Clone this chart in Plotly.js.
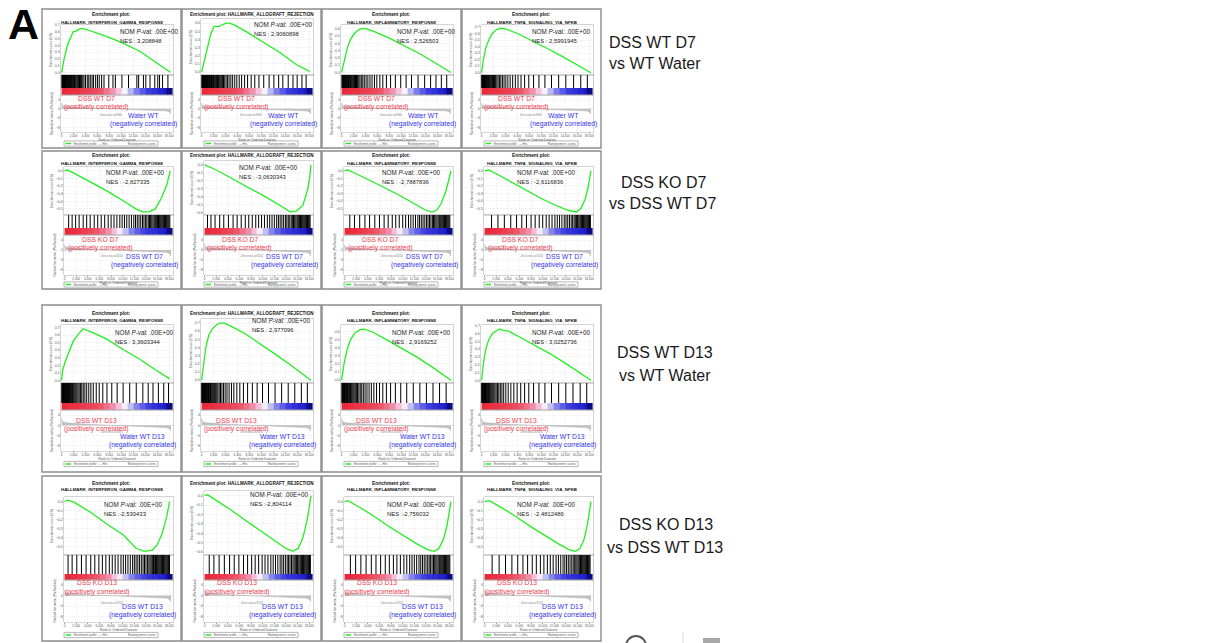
<!DOCTYPE html>
<html><head><meta charset="utf-8">
<script src="https://cdn.plot.ly/plotly-3.0.1.min.js"></script>
<style>html,body{margin:0;padding:0;background:#fff}#chart{width:1205px;height:643px}</style>
</head><body><div id="chart"></div><script>
const W=1205,H=643;
// ---------------- DATA ----------------
const geneSets = ["HALLMARK_INTERFERON_GAMMA_RESPONSE","HALLMARK_ALLOGRAFT_REJECTION","HALLMARK_INFLAMMATORY_RESPONSE","HALLMARK_TNFA_SIGNALING_VIA_NFKB"];
const rowLabels = [["DSS WT D7","vs WT Water"],["DSS KO D7","vs DSS WT D7"],["DSS WT D13","vs WT Water"],["DSS KO D13","vs DSS WT D13"]];
const posLabels = ["DSS WT D7","DSS KO D7","DSS WT D13","DSS KO D13"];
const negLabels = ["Water WT","DSS WT D7","Water WT D13","DSS WT D13"];
const nomText = "NOM <i>P</i>-val: .00E+00";
const nesText = [["NES : 3,208848","NES : 2,9060898","NES : 2,526503","NES : 2,5991945"],
                 ["NES : -2,827335","NES : -3,0630343","NES : -2,7887836","NES : -2,6116836"],
                 ["NES : 3,3603344","NES : 2,977096","NES : 2,9169252","NES : 3,0252736"],
                 ["NES :-2,530433","NES :-2,804114","NES :-2,756032","NES : -2,4812486"]];
const zeroCross = [8340, 8210, 8470, 8150];
const xTicks = [0,2000,4000,6000,8000,10000,12000,14000,16000,18000];

// running enrichment score curves (rank, ES)
const es_r1c1_rank=[0,442,994,1546,1932,2374,2926,3478,4306,7618,10378,13138,15898,17554,18216];
const es_r1c1_val =[0,0.21,0.41,0.54,0.60,0.61,0.64,0.65,0.63,0.53,0.43,0.31,0.14,0.04,0.005];
const es_r1c2_rank=[0,700,1000,1550,2100,2900,3500,4100,4600,5400,7600,10400,13100,15900,18100];
const es_r1c2_val =[0,0.20,0.32,0.47,0.56,0.56,0.58,0.60,0.60,0.58,0.49,0.36,0.24,0.09,0.01];
const es_r1c3_rank=[0,500,1000,1500,2000,2500,3200,4000,5500,8000,10500,13000,15500,17500,18300];
const es_r1c3_val =[0,0.20,0.35,0.45,0.52,0.56,0.60,0.60,0.56,0.47,0.37,0.26,0.14,0.04,0];
const es_r1c4_rank=[0,300,700,1200,1800,2500,3200,4000,6000,8500,11000,13500,15800,17600,18300];
const es_r1c4_val =[0,0.20,0.38,0.50,0.60,0.66,0.68,0.67,0.60,0.49,0.37,0.25,0.13,0.04,0];
const es_r2c1_rank=[0,450,1600,4400,7200,10000,12260,13400,14500,15600,16700,17600,18170];
const es_r2c1_val =[0,0.01,-0.03,-0.14,-0.26,-0.39,-0.50,-0.54,-0.54,-0.50,-0.35,-0.18,0];
const es_r2c2_rank=[0,1940,4700,7500,10200,13000,14700,15800,16900,17700,18100,18300];
const es_r2c2_val =[0,-0.06,-0.17,-0.28,-0.39,-0.51,-0.59,-0.58,-0.51,-0.32,-0.15,0];
const es_r2c3_rank=[0,500,2000,4500,7000,9500,12000,13800,15000,15800,16600,17400,17900,18300];
const es_r2c3_val =[0,0.01,-0.04,-0.13,-0.23,-0.33,-0.44,-0.52,-0.55,-0.53,-0.44,-0.28,-0.13,0];
const es_r2c4_rank=[0,700,2500,5000,7500,10000,12500,14500,15800,16600,17300,17800,18300];
const es_r2c4_val =[0,0.01,-0.06,-0.17,-0.28,-0.38,-0.47,-0.53,-0.55,-0.50,-0.38,-0.22,0];
const es_r3c1_rank=[0,170,560,1390,1950,2780,3600,5300,7500,10300,13100,15900,18100];
const es_r3c1_val =[0,0.13,0.24,0.41,0.52,0.61,0.685,0.63,0.55,0.41,0.28,0.13,0.02];
const es_r3c2_rank=[0,300,700,1200,1800,2500,3100,3800,5000,7500,10000,12500,15000,17200,18300];
const es_r3c2_val =[0,0.20,0.40,0.55,0.63,0.68,0.70,0.70,0.66,0.56,0.44,0.31,0.18,0.06,0];
const es_r3c3_rank=[0,400,900,1500,2200,3000,3800,5000,7500,10000,12500,15000,17200,18300];
const es_r3c3_val =[0,0.20,0.37,0.50,0.58,0.62,0.63,0.60,0.50,0.40,0.29,0.17,0.06,0];
const es_r3c4_rank=[0,300,700,1200,1800,2500,3000,3600,4500,6500,9000,11500,14000,16300,17800,18300];
const es_r3c4_val =[0,0.22,0.40,0.52,0.60,0.64,0.66,0.64,0.63,0.55,0.45,0.34,0.22,0.10,0.03,0];
const es_r4c1_rank=[0,560,1680,4470,7270,10060,12300,13700,15100,15930,16770,17600,18050];
const es_r4c1_val =[0,0.015,-0.01,-0.12,-0.25,-0.37,-0.52,-0.555,-0.54,-0.48,-0.36,-0.16,0];
const es_r4c2_rank=[0,500,2000,4500,7000,9500,12000,14000,15200,16100,16900,17600,18000,18300];
const es_r4c2_val =[0,0.01,-0.05,-0.15,-0.26,-0.37,-0.48,-0.56,-0.59,-0.56,-0.45,-0.27,-0.13,0];
const es_r4c3_rank=[0,600,2500,5000,7500,10000,12500,14300,15400,16200,17000,17600,18000,18300];
const es_r4c3_val =[0,0.01,-0.06,-0.16,-0.27,-0.37,-0.47,-0.53,-0.55,-0.52,-0.42,-0.27,-0.13,0];
const es_r4c4_rank=[0,800,3000,5500,8000,10500,12800,14500,15600,16400,17100,17700,18100,18300];
const es_r4c4_val =[0,0.01,-0.07,-0.17,-0.28,-0.38,-0.47,-0.53,-0.55,-0.52,-0.42,-0.25,-0.10,0];

// gene set hit positions (rank)
const hits_r1c1=[50,120,200,260,330,410,480,560,640,700,790,860,950,1040,1120,1200,1290,1380,1470,1560,1680,1790,1900,2020,2150,2280,2400,2560,2700,2850,3000,3180,3350,3550,3750,4000,4300,4550,4800,5100,5350,5700,6000,6300,6700,7100,7900,8600,9000,10100,11200,12600,12900,13700,14100,14800,15600,16100,16400,16900,17800];
const hits_r1c2=[40,110,180,250,320,400,470,550,620,690,770,850,930,1010,1100,1190,1280,1370,1460,1560,1660,1770,1880,2000,2120,2250,2380,2520,2660,2810,2960,3120,3300,3480,3670,3880,4100,4350,4600,4900,5200,5550,5900,6300,6700,7200,7700,8300,8900,9600,10400,11300,12100,12900,13600,14500,15300,16000,16800,17500];
const hits_r1c3=[60,130,210,290,360,440,520,600,690,780,870,960,1060,1160,1270,1380,1500,1620,1750,1880,2020,2170,2330,2500,2680,2870,3070,3300,3550,3800,4100,4400,4750,5100,5500,5900,6400,6900,7500,8200,9000,9900,10800,11700,12800,13900,14900,15800,16700,17600];
const hits_r1c4=[30,90,150,220,290,360,430,510,590,680,770,860,960,1070,1180,1300,1420,1550,1690,1840,2000,2170,2350,2550,2760,2980,3220,3480,3760,4060,4400,4780,5200,5650,6100,6600,7200,7900,8700,9600,10600,11700,12900,14100,15400,16600,17700];
const hits_r2c1=[700,1300,1900,2500,3200,3800,4400,5100,5700,6300,6900,7500,8000,8500,9000,9500,9900,10300,10700,11100,11500,11900,12200,12500,12800,13100,13400,13650,13900,14150,14400,14600,14800,15000,15200,15400,15550,15700,15850,16000,16150,16300,16450,16600,16750,16900,17050,17200,17350,17500,17650,17800,17950,18100];
const hits_r2c2=[500,1100,1800,2600,3300,4100,4900,5600,6300,7000,7600,8200,8800,9300,9800,10300,10800,11200,11600,12000,12400,12700,13000,13300,13600,13900,14150,14400,14650,14900,15100,15300,15500,15700,15900,16050,16200,16350,16500,16650,16800,16950,17100,17250,17400,17550,17700,17850,18000,18150];
const hits_r2c3=[900,1700,2600,3500,4300,5200,6000,6800,7500,8200,8800,9400,10000,10500,11000,11400,11800,12200,12600,12900,13200,13500,13800,14100,14350,14600,14850,15100,15300,15500,15700,15900,16100,16300,16450,16600,16750,16900,17050,17200,17350,17500,17650,17800,17950,18100];
const hits_r2c4=[1200,2300,3400,4500,5500,6400,7200,8000,8700,9400,10000,10600,11100,11600,12100,12500,12900,13300,13700,14000,14300,14600,14900,15150,15400,15600,15800,16000,16200,16400,16550,16700,16850,17000,17150,17300,17450,17600,17750,17900,18050,18200];
const hits_r3c1=[40,100,170,240,310,380,460,540,620,700,780,870,960,1050,1150,1250,1350,1460,1570,1690,1810,1940,2080,2230,2390,2560,2740,2940,3150,3380,3620,3900,4200,4550,4900,5300,5800,6300,6900,7600,8400,9300,10300,11400,12500,13600,14500,15300,16200,17100,17900];
const hits_r3c2=[30,90,160,230,300,370,440,520,600,680,770,860,950,1050,1150,1260,1370,1490,1610,1740,1880,2030,2190,2360,2540,2730,2940,3160,3400,3660,3940,4250,4600,5000,5400,5900,6400,7000,7700,8500,9300,10200,11200,12300,13400,14500,15600,16700,17700];
const hits_r3c3=[50,120,190,270,350,430,510,600,690,790,890,1000,1110,1230,1350,1480,1620,1770,1930,2100,2280,2470,2670,2890,3120,3370,3640,3930,4250,4600,4980,5400,5850,6350,6900,7500,8200,9000,9900,10900,12000,13100,14200,15300,16400,17500];
const hits_r3c4=[30,80,140,200,270,340,410,490,570,660,750,850,950,1060,1180,1300,1430,1570,1720,1880,2050,2230,2430,2650,2880,3130,3400,3700,4050,4450,4900,5400,5950,6550,7200,7900,8700,9600,10600,11700,12900,14100,15300,16500,17600];
const hits_r4c1=[600,1300,2100,2900,3700,4500,5200,5900,6500,7100,7700,8200,8700,9200,9700,10100,10500,10900,11300,11700,12000,12300,12600,12900,13200,13500,13750,14000,14250,14500,14700,14900,15100,15300,15500,15650,15800,15950,16100,16250,16400,16550,16700,16850,17000,17150,17300,17450,17600,17750,17900,18050];
const hits_r4c2=[800,1600,2500,3400,4300,5100,5900,6700,7400,8100,8700,9300,9900,10400,10900,11400,11800,12200,12600,13000,13300,13600,13900,14200,14450,14700,14950,15200,15400,15600,15800,16000,16200,16400,16550,16700,16850,17000,17150,17300,17450,17600,17750,17900,18050,18200];
const hits_r4c3=[1000,1900,2800,3700,4600,5400,6200,7000,7700,8400,9000,9600,10200,10700,11200,11600,12000,12400,12800,13100,13400,13700,14000,14300,14550,14800,15050,15300,15500,15700,15900,16100,16300,16450,16600,16750,16900,17050,17200,17350,17500,17650,17800,17950,18100];
const hits_r4c4=[1300,2500,3600,4700,5700,6600,7400,8200,8900,9600,10200,10800,11300,11800,12300,12700,13100,13500,13800,14100,14400,14700,15000,15250,15500,15700,15900,16100,16300,16500,16650,16800,16950,17100,17250,17400,17550,17700,17850,18000,18150];

// ranked list metric (one per comparison)
const metricRank=[0,150,600,1500,3000,5000,7000,8300,10000,12000,14000,16000,17500,18100,18300];
const metric_r1=[2.6,1.4,1.0,0.75,0.55,0.35,0.15,0,-0.15,-0.3,-0.45,-0.6,-0.85,-1.3,-2.2];
const metric_r2=[2.2,1.2,0.9,0.7,0.5,0.3,0.12,0,-0.15,-0.3,-0.45,-0.62,-0.9,-1.4,-2.4];
const metric_r3=[2.8,1.5,1.05,0.8,0.6,0.38,0.17,0.02,-0.14,-0.3,-0.45,-0.6,-0.85,-1.3,-2.1];
const metric_r4=[2.3,1.25,0.9,0.7,0.5,0.3,0.12,0,-0.15,-0.3,-0.46,-0.62,-0.9,-1.4,-2.3];

// colour bar under the barcode
const gradEdges=[0,1000,2000,3000,4000,5000,6000,7000,8000,9000,10000,11000,12000,13000,14000,15000,16000,17000,17600,18650];
const grad_r1=[1,0.96,0.92,0.87,0.82,0.75,0.66,0.48,0.32,0.14,0,-0.14,-0.3,-0.46,-0.6,-0.7,-0.8,-0.9,-1];
const grad_r2=[1,0.95,0.9,0.84,0.76,0.66,0.5,0.34,0.16,0.02,-0.12,-0.28,-0.44,-0.56,-0.66,-0.74,-0.82,-0.9,-1];
const grad_r3=[1,0.96,0.92,0.87,0.82,0.75,0.66,0.5,0.34,0.16,0.02,-0.12,-0.28,-0.44,-0.58,-0.7,-0.8,-0.9,-1];
const grad_r4=[1,0.95,0.9,0.84,0.76,0.66,0.5,0.34,0.16,0.02,-0.12,-0.28,-0.44,-0.56,-0.66,-0.74,-0.82,-0.9,-1];

// ---------------- BUILD ----------------
const ES = [[ [es_r1c1_rank,es_r1c1_val],[es_r1c2_rank,es_r1c2_val],[es_r1c3_rank,es_r1c3_val],[es_r1c4_rank,es_r1c4_val] ],
            [ [es_r2c1_rank,es_r2c1_val],[es_r2c2_rank,es_r2c2_val],[es_r2c3_rank,es_r2c3_val],[es_r2c4_rank,es_r2c4_val] ],
            [ [es_r3c1_rank,es_r3c1_val],[es_r3c2_rank,es_r3c2_val],[es_r3c3_rank,es_r3c3_val],[es_r3c4_rank,es_r3c4_val] ],
            [ [es_r4c1_rank,es_r4c1_val],[es_r4c2_rank,es_r4c2_val],[es_r4c3_rank,es_r4c3_val],[es_r4c4_rank,es_r4c4_val] ]];
const HITS = [[hits_r1c1,hits_r1c2,hits_r1c3,hits_r1c4],[hits_r2c1,hits_r2c2,hits_r2c3,hits_r2c4],
              [hits_r3c1,hits_r3c2,hits_r3c3,hits_r3c4],[hits_r4c1,hits_r4c2,hits_r4c3,hits_r4c4]];
const METRIC = [metric_r1,metric_r2,metric_r3,metric_r4];
const GRAD = [grad_r1,grad_r2,grad_r3,grad_r4];

const colX=[42,182,322,462], colW=139;
const rowGeo=[
 {top:9,  h:139, esTop:16, esBot:66, gradH:7, barBot:86,  metBot:123, legY:134.5, t1:6, t2:13, posY:[89,98],   negY:[106,115], posC:54, negC:101, L:19},
 {top:151,h:138, esTop:16, esBot:64, gradH:7, barBot:84,  metBot:124, legY:133.5, t1:4, t2:12, posY:[88,97],   negY:[105,114], posC:58, negC:102, L:22},
 {top:305,h:167, esTop:20, esBot:78, gradH:7, barBot:105, metBot:146, legY:159,   t1:8, t2:16, posY:[115,124], negY:[131,140], posC:54, negC:100, L:19},
 {top:476,h:165, esTop:21, esBot:79, gradH:6, barBot:104, metBot:146, legY:159,   t1:7, t2:13, posY:[106,116], negY:[130,139], posC:55, negC:100, L:22}
];
const nomLeft=[[76,70,73,68],[62,55,58,53],[71,68,68,68],[60,66,63,53]];
const nomY=[[22,15,23,23],[21,16,21,21],[27,15,27,27],[28,18,28,28]];
const R=131;
const XR=[-100,18650];
const FONT='Liberation Sans, Arial, sans-serif';
const colorscale=[[0,'#0b0b86'],[0.05,'#1c1cc8'],[0.2,'#3b3be0'],[0.35,'#7c7ceb'],[0.45,'#c6c6f3'],[0.5,'#f6f2fa'],[0.57,'#f5c3dd'],[0.66,'#f291ad'],[0.8,'#ee5f70'],[1,'#e9283b']];

const px=x=>x/W, py=y=>1-y/H;
const data=[]; const layout={width:W,height:H,margin:{l:0,r:0,t:0,b:0},paper_bgcolor:'#fff',plot_bgcolor:'rgba(0,0,0,0)',
  showlegend:false,font:{family:FONT,color:'#333'},shapes:[],annotations:[]};
function ann(o){layout.annotations.push(Object.assign({xref:'paper',yref:'paper',showarrow:false,xanchor:'center',yanchor:'middle'},o));}

let n=0;
for(let r=0;r<4;r++){
  const g=rowGeo[r];
  for(let c=0;c<4;c++){
    const x0=colX[c], y0=g.top;
    const esTop = (c===1)? g.esTop-6 : g.esTop;
    const xd=[px(x0+g.L), px(x0+R)];
    const ids=[n+1,n+2,n+3]; n+=3;
    const k=i=>i===1?'':String(i);
    const [eR,eV]=ES[r][c];
    const pos = r%2===0;
    const vmax=Math.max(...eV), vmin=Math.min(...eV);
    const yr = pos? [-0.035, vmax+0.05] : [vmin-0.04, 0.05];
    // ES axis
    layout['xaxis'+k(ids[0])]={domain:xd,anchor:'y'+k(ids[0]),range:XR,showticklabels:false,ticks:'',showgrid:true,gridcolor:'#ececec',gridwidth:0.5,
      tickmode:'array',tickvals:xTicks,zeroline:false,showline:true,mirror:true,linecolor:'#aaa',linewidth:0.5};
    layout['yaxis'+k(ids[0])]={domain:[py(y0+g.esBot),py(y0+esTop)],anchor:'x'+k(ids[0]),range:yr,dtick:0.1,tickformat:'.1f',
      tickfont:{size:3.6,color:'#555'},ticks:'',showgrid:true,gridcolor:'#ececec',gridwidth:0.5,zeroline:false,showline:true,mirror:true,linecolor:'#aaa',linewidth:0.5,
      title:{text:'Enrichment score (ES)',font:{size:3.4,color:'#555'},standoff:2}};
    data.push({type:'scatter',mode:'lines',x:eR,y:eV,xaxis:'x'+k(ids[0]),yaxis:'y'+k(ids[0]),line:{color:'#22ee22',width:1.3},hoverinfo:'skip'});
    // barcode + gradient axis
    const gf=g.gradH/(g.barBot-g.esBot);
    layout['xaxis'+k(ids[1])]={domain:xd,anchor:'y'+k(ids[1]),range:XR,showticklabels:false,ticks:'',showgrid:false,zeroline:false,showline:true,mirror:true,linecolor:'#999',linewidth:0.5};
    layout['yaxis'+k(ids[1])]={domain:[py(y0+g.barBot),py(y0+g.esBot)],anchor:'x'+k(ids[1]),range:[0,1],showticklabels:false,ticks:'',showgrid:false,zeroline:false,showline:true,mirror:true,linecolor:'#999',linewidth:0.5};
    data.push({type:'heatmap',x:gradEdges,y:[0,gf],z:[GRAD[r]],zmin:-1,zmax:1,colorscale:colorscale,showscale:false,xaxis:'x'+k(ids[1]),yaxis:'y'+k(ids[1]),hoverinfo:'skip'});
    const hx=[],hy=[];
    HITS[r][c].forEach(h=>{hx.push(h,h,null);hy.push(gf,1,null);});
    data.push({type:'scatter',mode:'lines',x:hx,y:hy,xaxis:'x'+k(ids[1]),yaxis:'y'+k(ids[1]),line:{color:'#000',width:1},hoverinfo:'skip'});
    // ranked metric axis
    layout['xaxis'+k(ids[2])]={domain:xd,anchor:'y'+k(ids[2]),range:XR,tickmode:'array',tickvals:xTicks,ticktext:xTicks.map(v=>v.toLocaleString('en-US')),tickangle:0,
      tickfont:{size:3.1,color:'#555'},ticks:'outside',ticklen:1,tickcolor:'#999',showgrid:true,gridcolor:'#f0f0f0',gridwidth:0.5,zeroline:false,showline:true,mirror:true,linecolor:'#aaa',linewidth:0.5,
      title:{text:'Rank in Ordered Dataset',font:{size:3.4,color:'#555'},standoff:1}};
    layout['yaxis'+k(ids[2])]={domain:[py(y0+g.metBot),py(y0+g.barBot)],anchor:'x'+k(ids[2]),range:[-10,6],tickmode:'array',tickvals:[-8,-4,0,4],
      tickfont:{size:3.3,color:'#555'},ticks:'',showgrid:true,gridcolor:'#f0f0f0',gridwidth:0.5,zeroline:true,zerolinecolor:'#ccc',zerolinewidth:0.5,showline:true,mirror:true,linecolor:'#aaa',linewidth:0.5,
      title:{text:'Ranked list metric (PreRanked)',font:{size:3.1,color:'#555'},standoff:2}};
    data.push({type:'scatter',mode:'lines',x:metricRank,y:METRIC[r],xaxis:'x'+k(ids[2]),yaxis:'y'+k(ids[2]),fill:'tozeroy',fillcolor:'#c2c2c2',line:{color:'#aaa',width:0.5},hoverinfo:'skip'});
    layout.annotations.push({xref:'x'+k(ids[2]),yref:'y'+k(ids[2]),x:zeroCross[r],y:-2.6,text:'Zero cross at '+zeroCross[r],showarrow:false,font:{size:2.6,color:'#777'}});
    // panel frame
    layout.shapes.push({type:'rect',xref:'paper',yref:'paper',x0:px(x0),x1:px(x0+colW),y0:py(y0+g.h),y1:py(y0),line:{color:'#8c8c8c',width:1.4}});
    // titles
    if(c===1){
      ann({x:px(x0+colW/2),y:py(y0+g.t1),text:'<b>Enrichment plot: '+geneSets[c]+'</b>',font:{size:4.6,color:'#111'}});
    } else {
      ann({x:px(x0+colW/2),y:py(y0+g.t1),text:'<b>Enrichment plot:</b>',font:{size:4.8,color:'#111'}});
      ann({x:px(x0+colW/2),y:py(y0+g.t2),text:'<b>'+geneSets[c]+'</b>',font:{size:4.4,color:'#111'}});
    }
    // NOM / NES
    ann({x:px(x0+nomLeft[r][c]),y:py(y0+nomY[r][c]),xanchor:'left',text:nomText,font:{size:6.3,color:'#222'}});
    ann({x:px(x0+nomLeft[r][c]),y:py(y0+nomY[r][c]+9.5),xanchor:'left',text:nesText[r][c],font:{size:5.9,color:'#222'}});
    // phenotype labels
    ann({x:px(x0+g.posC),y:py(y0+g.posY[0]),text:posLabels[r],font:{size:6.8,color:'#ef3b4e'}});
    ann({x:px(x0+g.posC),y:py(y0+g.posY[1]),text:'(positively correlated)',font:{size:6.8,color:'#ef3b4e'}});
    ann({x:px(x0+g.negC),y:py(y0+g.negY[0]),text:negLabels[r],font:{size:6.8,color:'#3535e8'}});
    ann({x:px(x0+g.negC),y:py(y0+g.negY[1]),text:'(negatively correlated)',font:{size:6.8,color:'#3535e8'}});
    // legend box
    const ly=y0+g.legY;
    layout.shapes.push({type:'rect',xref:'paper',yref:'paper',x0:px(x0+22),x1:px(x0+116),y0:py(ly+2.6),y1:py(ly-2.6),line:{color:'#888',width:0.6},fillcolor:'#fff'});
    layout.shapes.push({type:'line',xref:'paper',yref:'paper',x0:px(x0+23.5),x1:px(x0+29),y0:py(ly),y1:py(ly),line:{color:'#22ee22',width:1.5}});
    ann({x:px(x0+30),y:py(ly),xanchor:'left',text:'Enrichment profile',font:{size:2.8,color:'#555'}});
    ann({x:px(x0+55),y:py(ly),xanchor:'left',text:'— Hits',font:{size:2.8,color:'#555'}});
    ann({x:px(x0+84),y:py(ly),xanchor:'left',text:'Ranking metric scores',font:{size:2.8,color:'#555'}});
  }
}
// figure label and comparison labels
ann({x:px(23),y:py(24),text:'<b>A</b>',font:{size:43,color:'#000',family:'Liberation Sans, Arial, sans-serif'}});
const rowLabelPos=[[652,42,655,64],[663,183,662,204],[665,352,665,375],[666,524,665,547]];
rowLabels.forEach((l,i)=>{
  const p=rowLabelPos[i];
  ann({x:px(p[0]),y:py(p[1]),text:l[0],font:{size:16,color:'#1a1a1a'}});
  ann({x:px(p[2]),y:py(p[3]),text:l[1],font:{size:16,color:'#1a1a1a'}});
});
// partial elements at bottom edge
layout.shapes.push({type:'circle',xref:'paper',yref:'paper',x0:px(626),x1:px(646),y0:py(656),y1:py(636),line:{color:'#555',width:2}});
layout.shapes.push({type:'line',xref:'paper',yref:'paper',x0:px(683),x1:px(683),y0:py(643),y1:py(632),line:{color:'#ddd',width:1}});
layout.shapes.push({type:'rect',xref:'paper',yref:'paper',x0:px(703),x1:px(720),y0:py(643),y1:py(638),line:{width:0},fillcolor:'#a8a8a8'});

Plotly.newPlot('chart',data,layout,{staticPlot:true,displayModeBar:false});
</script></body></html>
